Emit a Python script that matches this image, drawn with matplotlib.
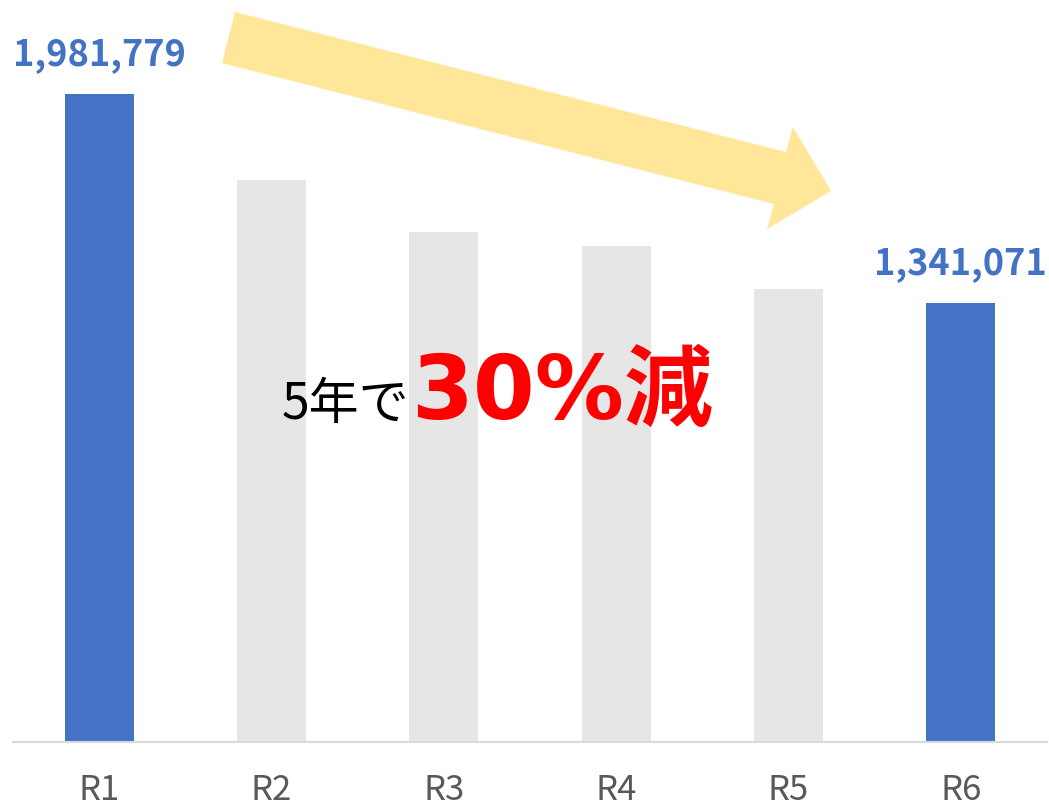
import matplotlib
matplotlib.use("Agg")
import matplotlib.pyplot as plt
from matplotlib.patches import Polygon

plt.rcParams['font.family'] = ['Noto Sans CJK JP', 'DejaVu Sans']

categories = ["R1", "R2", "R3", "R4", "R5", "R6"]
values = [1981779, 1718800, 1559700, 1516900, 1385400, 1341071]
highlight = [True, False, False, False, False, True]
label_texts = ["1,981,779", None, None, None, None, "1,341,071"]

W, H = 1049, 806
fig = plt.figure(figsize=(W / 100, H / 100), dpi=100)
ax = fig.add_axes([13 / W, 64 / H, 1034 / W, 742 / H])

blue = "#4472C4"
gray = "#E7E6E6"
colors = [blue if h else gray for h in highlight]
x = list(range(len(categories)))
bars = ax.bar(x, values, width=0.4, color=colors, zorder=2)

ax.set_xlim(-0.5, len(categories) - 0.5)
ax.set_ylim(0, values[0] * 742 / 648)
for s in ["top", "right", "left"]:
    ax.spines[s].set_visible(False)
ax.spines["bottom"].set_color("#D9D9D9")
ax.spines["bottom"].set_linewidth(1.5)
ax.set_yticks([])
ax.set_xticks(x)
ax.set_xticklabels(categories, fontsize=25, color="#595959")
ax.tick_params(axis="x", length=0, pad=22)

for xi, v, t in zip(x, values, label_texts):
    if t:
        ax.annotate(t, (xi, v), xytext=(0, 21), textcoords="offset points",
                    ha="center", va="baseline", fontsize=26, fontweight="bold",
                    color=blue)

# Yellow arrow (figure pixel coords, top-origin)
pts = [(235, 12), (786, 152), (793, 127), (831, 191), (767, 229), (774, 204), (222, 63)]
poly = Polygon([(px / W, (H - py) / H) for px, py in pts], closed=True,
               transform=fig.transFigure, facecolor="#FFE699", edgecolor="none",
               zorder=5)
fig.patches.append(poly)

fig.text(409 / W, (H - 419) / H, "5年で", ha="right", va="baseline",
         fontsize=36, color="black")
fig.text(713 / W, (H - 419) / H, "30%減", ha="right", va="baseline",
         fontsize=64, fontweight="bold", color="#FF0000",
         family=['DejaVu Sans', 'Noto Sans CJK JP'])

fig.savefig("out.png", dpi=100)
